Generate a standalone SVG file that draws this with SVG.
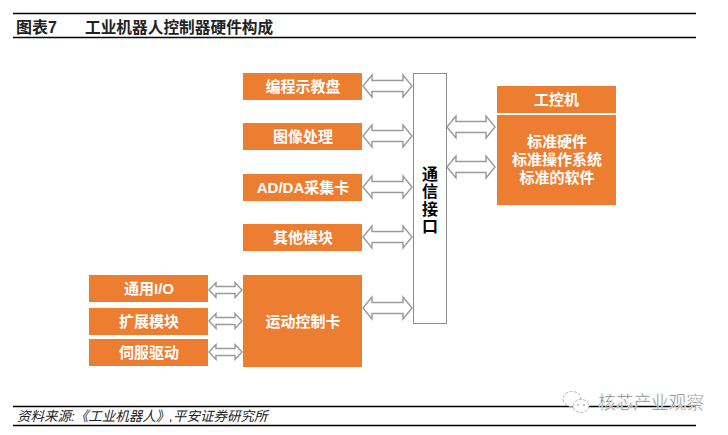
<svg xmlns="http://www.w3.org/2000/svg" width="728" height="435" viewBox="0 0 728 435">
<style>
text{font-family:"Liberation Sans","Noto Sans CJK SC",sans-serif}
.b{fill:#ed7d31}
.w{fill:#fff;font-size:15px;font-weight:700;text-anchor:middle}
.r{stroke:#000;stroke-width:1.4}
.a{fill:#fff;stroke:#9a9a9a;stroke-width:1.4}
.i{fill:#fff;stroke:#b5b5b5;stroke-width:1;stroke-dasharray:3 1.500}
</style>
<rect width="728" height="435" fill="#fff"/>
<g id="header">
<line class="r" x1="13" y1="13.500" x2="696" y2="13.500"/>
<line class="r" x1="13" y1="37.500" x2="696" y2="37.500"/>
<text x="16" y="32.500" font-size="16" font-weight="700" fill="#222">图表7</text>
<text x="85" y="32.500" font-size="15.700" font-weight="700" fill="#222">工业机器人控制器硬件构成</text>
</g>
<g id="connectors">
<path class="a" d="M363 86l9-11v5.500h31v-5.500l9 11-9 11v-5.500h-31v5.500z"/>
<path class="a" d="M363 136l9-11v5.500h31v-5.500l9 11-9 11v-5.500h-31v5.500z"/>
<path class="a" d="M363 187l9-11v5.500h31v-5.500l9 11-9 11v-5.500h-31v5.500z"/>
<path class="a" d="M363 237l9-11v5.500h31v-5.500l9 11-9 11v-5.500h-31v5.500z"/>
<path class="a" d="M363 308l9-11v5.500h31v-5.500l9 11-9 11v-5.500h-31v5.500z"/>
<path class="a" d="M447 127l9-11v5.500h30v-5.500l9 11-9 11v-5.500h-30v5.500z"/>
<path class="a" d="M447 167l9-11v5.500h30v-5.500l9 11-9 11v-5.500h-30v5.500z"/>
<path class="a" d="M209 290l7-7.500v4h19v-4l7 7.500-7 7.500v-4h-19v4z"/>
<path class="a" d="M209 321l7-7.500v4h19v-4l7 7.500-7 7.500v-4h-19v4z"/>
<path class="a" d="M209 352l7-7.500v4h19v-4l7 7.500-7 7.500v-4h-19v4z"/>
</g>
<g id="n1"><rect class="b" x="243" y="73" width="119" height="27"/><text class="w" x="303" y="91.500">编程示教盘</text></g>
<g id="n2"><rect class="b" x="243" y="123" width="119" height="27"/><text class="w" x="303" y="141.500">图像处理</text></g>
<g id="n3"><rect class="b" x="243" y="174" width="119" height="27"/><text class="w" x="303" y="192.500">AD/DA采集卡</text></g>
<g id="n4"><rect class="b" x="243" y="224" width="119" height="27"/><text class="w" x="303" y="242.500">其他模块</text></g>
<g id="n5"><rect class="b" x="243" y="275" width="119" height="92"/><text class="w" x="303" y="326.500">运动控制卡</text></g>
<g id="n6"><rect class="b" x="89" y="275" width="119" height="27"/><text class="w" x="149" y="294">通用I/O</text></g>
<g id="n7"><rect class="b" x="89" y="308" width="119" height="27"/><text class="w" x="149" y="326.500">扩展模块</text></g>
<g id="n8"><rect class="b" x="89" y="339" width="119" height="27"/><text class="w" x="149" y="357.500">伺服驱动</text></g>
<g id="n9"><rect x="413.500" y="73.500" width="33" height="250" fill="#fff" stroke="#8c8c8c" stroke-width="1"/>
<g font-size="16" font-weight="700" text-anchor="middle" fill="#000"><text x="430" y="179.500">通</text><text x="430" y="197">信</text><text x="430" y="214.500">接</text><text x="430" y="232">口</text></g></g>
<g id="n10"><rect class="b" x="497" y="86" width="119" height="27"/><text class="w" x="556.500" y="105">工控机</text></g>
<g id="n11"><rect class="b" x="497" y="115" width="119" height="90"/><text class="w" x="557" y="147">标准硬件</text><text class="w" x="557" y="165">标准操作系统</text><text class="w" x="557" y="183">标准的软件</text></g>
<g id="footer">
<line class="r" x1="13" y1="406.500" x2="696" y2="406.500"/>
<line class="r" x1="13" y1="425.500" x2="696" y2="425.500"/>
<text x="17" y="421" font-size="13.500" font-style="italic" fill="#222">资料来源:《工业机器人》,平安证券研究所</text>
<ellipse class="i" cx="572" cy="399" rx="9" ry="7.500"/>
<ellipse class="i" cx="581" cy="406" rx="8" ry="6.500"/>
<circle cx="578" cy="405" r="1" fill="#aaa"/><circle cx="584" cy="405" r="1" fill="#aaa"/>
<text x="598" y="409" font-size="17.700" fill="#777" stroke="#fff" stroke-width="0.500">核芯产业观察</text>
</g>
</svg>
